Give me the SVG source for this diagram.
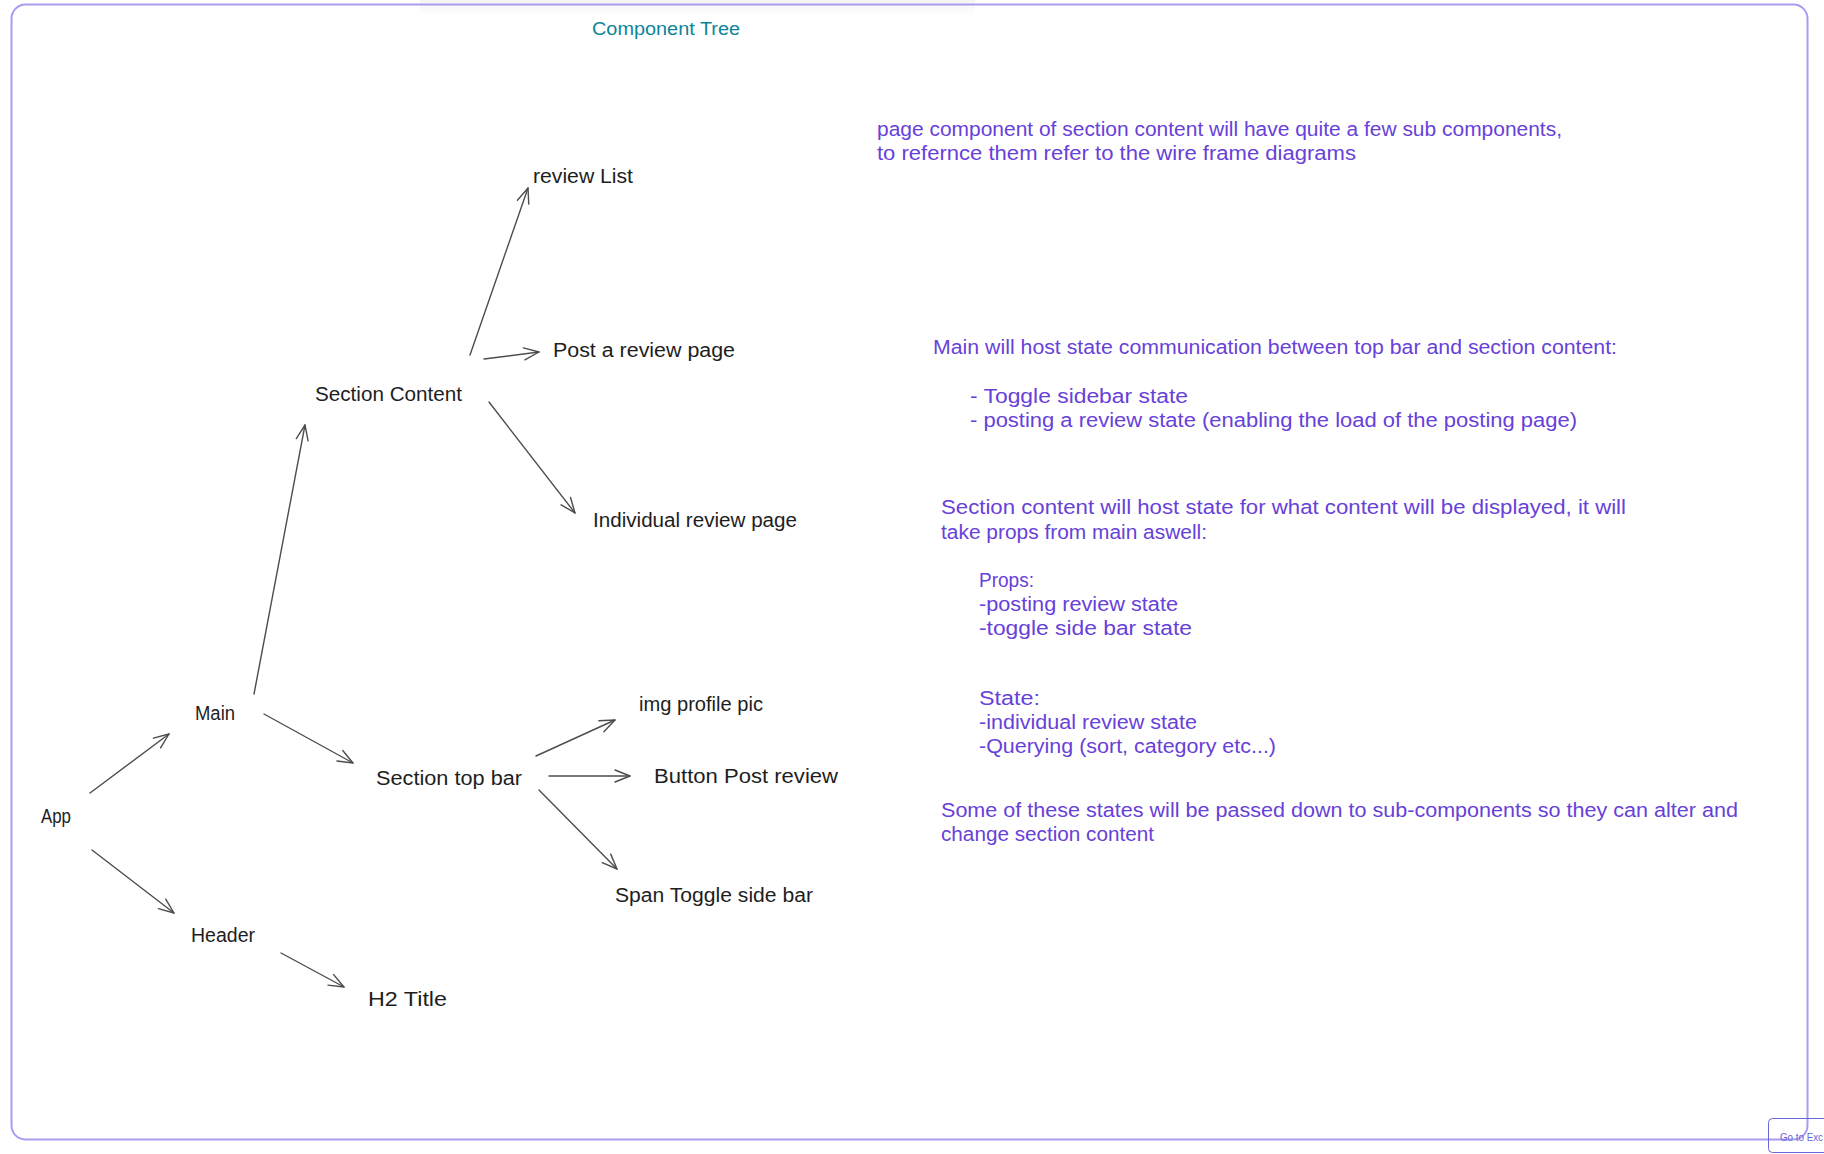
<svg xmlns="http://www.w3.org/2000/svg" width="1824" height="1154" viewBox="0 0 1824 1154">
  <style>
    .lbl { font-family: "Liberation Sans", "DejaVu Sans", sans-serif; font-size: 20px; fill: #1e1e1e; }
    .note { font-family: "Liberation Sans", "DejaVu Sans", sans-serif; font-size: 20px; fill: #6741d9; }
    .title { font-family: "Liberation Sans", "DejaVu Sans", sans-serif; font-size: 18px; fill: #0c8599; }
    .edge { fill: none; stroke: #4d4d4d; stroke-width: 1.4; stroke-linecap: round; marker-end: url(#arrow); }
    .frame { fill: none; stroke: #a99cf0; stroke-width: 2; }
  </style>
  <defs>
    <marker id="arrow" markerUnits="userSpaceOnUse" markerWidth="24" markerHeight="16" refX="0" refY="0" viewBox="-20 -8 24 16" orient="auto" overflow="visible">
      <path d="M -15,-6 L 0,0 L -15,6" fill="none" stroke="#4d4d4d" stroke-width="1.4" stroke-linecap="round" stroke-linejoin="round"/>
    </marker>
    <linearGradient id="shadow" x1="0" y1="0" x2="0" y2="1">
      <stop offset="0" stop-color="#000" stop-opacity="0.045"/>
      <stop offset="1" stop-color="#000" stop-opacity="0"/>
    </linearGradient>
  </defs>
  <rect x="0" y="0" width="1824" height="1154" fill="#ffffff"/>
  <rect x="420" y="0" width="555" height="16" fill="url(#shadow)"/>
  <rect class="frame" x="11.5" y="4.5" width="1796" height="1135" rx="14"/>

  <g id="title"><text class="title" x="592" y="35" textLength="148" lengthAdjust="spacingAndGlyphs">Component Tree</text></g>

  <g id="connectors">
    <line class="edge" x1="90" y1="793" x2="169" y2="734"/>
    <line class="edge" x1="92" y1="850" x2="174" y2="913"/>
    <line class="edge" x1="254" y1="694" x2="305" y2="425"/>
    <line class="edge" x1="264" y1="714" x2="353" y2="763"/>
    <line class="edge" x1="281" y1="953" x2="344" y2="987"/>
    <line class="edge" x1="470" y1="355" x2="528" y2="188"/>
    <line class="edge" x1="484" y1="359" x2="539" y2="352"/>
    <line class="edge" x1="489" y1="402" x2="575" y2="513"/>
    <line class="edge" x1="536" y1="756" x2="615" y2="720"/>
    <line class="edge" x1="549" y1="776" x2="630" y2="776"/>
    <line class="edge" x1="539" y1="790" x2="617" y2="869"/>
  </g>

  <g id="node-app"><text class="lbl" x="41" y="823" textLength="30" lengthAdjust="spacingAndGlyphs">App</text></g>
  <g id="node-main"><text class="lbl" x="195" y="720" textLength="40" lengthAdjust="spacingAndGlyphs">Main</text></g>
  <g id="node-header"><text class="lbl" x="191" y="942" textLength="64" lengthAdjust="spacingAndGlyphs">Header</text></g>
  <g id="node-h2-title"><text class="lbl" x="368" y="1006" textLength="79" lengthAdjust="spacingAndGlyphs">H2 Title</text></g>
  <g id="node-section-content"><text class="lbl" x="315" y="401" textLength="147" lengthAdjust="spacingAndGlyphs">Section Content</text></g>
  <g id="node-review-list"><text class="lbl" x="533" y="183" textLength="100" lengthAdjust="spacingAndGlyphs">review List</text></g>
  <g id="node-post-review-page"><text class="lbl" x="553" y="357" textLength="182" lengthAdjust="spacingAndGlyphs">Post a review page</text></g>
  <g id="node-individual-review-page"><text class="lbl" x="593" y="527" textLength="204" lengthAdjust="spacingAndGlyphs">Individual review page</text></g>
  <g id="node-section-top-bar"><text class="lbl" x="376" y="785" textLength="146" lengthAdjust="spacingAndGlyphs">Section top bar</text></g>
  <g id="node-img-profile-pic"><text class="lbl" x="639" y="711" textLength="124" lengthAdjust="spacingAndGlyphs">img profile pic</text></g>
  <g id="node-button-post-review"><text class="lbl" x="654" y="783" textLength="184" lengthAdjust="spacingAndGlyphs">Button Post review</text></g>
  <g id="node-span-toggle-side-bar"><text class="lbl" x="615" y="902" textLength="198" lengthAdjust="spacingAndGlyphs">Span Toggle side bar</text></g>

  <g id="note-page-component">
    <text class="note" x="877" y="136" textLength="685" lengthAdjust="spacingAndGlyphs">page component of section content will have quite a few sub components,</text>
    <text class="note" x="877" y="160" textLength="479" lengthAdjust="spacingAndGlyphs">to refernce them refer to the wire frame diagrams</text>
  </g>
  <g id="note-main-state">
    <text class="note" x="933" y="354" textLength="684" lengthAdjust="spacingAndGlyphs">Main will host state communication between top bar and section content:</text>
    <text class="note" x="970" y="403" textLength="218" lengthAdjust="spacingAndGlyphs">- Toggle sidebar state</text>
    <text class="note" x="970" y="427" textLength="607" lengthAdjust="spacingAndGlyphs">- posting a review state (enabling the load of the posting page)</text>
  </g>
  <g id="note-section-content">
    <text class="note" x="941" y="514" textLength="685" lengthAdjust="spacingAndGlyphs">Section content will host state for what content will be displayed, it will</text>
    <text class="note" x="941" y="539" textLength="266" lengthAdjust="spacingAndGlyphs">take props from main aswell:</text>
    <text class="note" x="979" y="587" textLength="55" lengthAdjust="spacingAndGlyphs">Props:</text>
    <text class="note" x="979" y="611" textLength="199" lengthAdjust="spacingAndGlyphs">-posting review state</text>
    <text class="note" x="979" y="635" textLength="213" lengthAdjust="spacingAndGlyphs">-toggle side bar state</text>
    <text class="note" x="979" y="705" textLength="61" lengthAdjust="spacingAndGlyphs">State:</text>
    <text class="note" x="979" y="729" textLength="218" lengthAdjust="spacingAndGlyphs">-individual review state</text>
    <text class="note" x="979" y="753" textLength="297" lengthAdjust="spacingAndGlyphs">-Querying (sort, category etc...)</text>
  </g>
  <g id="note-sub-components">
    <text class="note" x="941" y="817" textLength="797" lengthAdjust="spacingAndGlyphs">Some of these states will be passed down to sub-components so they can alter and</text>
    <text class="note" x="941" y="841" textLength="213" lengthAdjust="spacingAndGlyphs">change section content</text>
  </g>

  <g id="go-to-button">
    <rect x="1768.5" y="1118.5" width="80" height="34" rx="4" fill="none" stroke="#6965db" stroke-width="1"/>
    <text x="1780" y="1141" font-family="Liberation Sans, sans-serif" font-size="11" fill="#6965db" textLength="43" lengthAdjust="spacingAndGlyphs">Go to Exc</text>
  </g>
</svg>
